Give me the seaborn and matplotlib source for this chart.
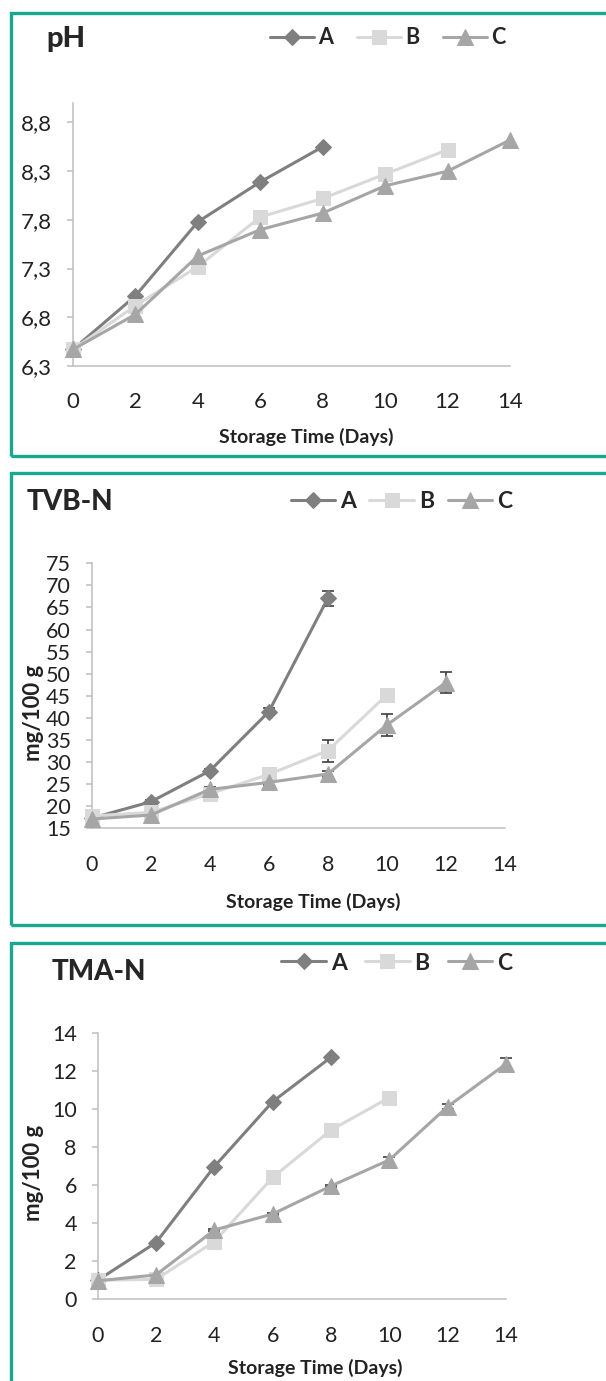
import matplotlib
matplotlib.use("Agg")
import numpy as np
import pandas as pd
import seaborn as sns
import matplotlib.pyplot as plt
from matplotlib.patches import Rectangle

# ---- data ----
days = [0, 2, 4, 6, 8, 10, 12, 14]

ph_A = [6.47, 7.02, 7.78, 8.19, 8.55]
ph_B = [6.47, 6.92, 7.32, 7.83, 8.02, 8.27, 8.52]
ph_C = [6.47, 6.83, 7.43, 7.70, 7.87, 8.15, 8.30, 8.62]

tvbn_A = [17.3, 21.0, 28.0, 41.4, 67.1]
tvbn_B = [17.8, 18.6, 22.8, 27.2, 32.6, 45.2]
tvbn_C = [17.1, 18.0, 23.8, 25.4, 27.3, 38.4, 48.0]
tvbn_A_err = [0.3, 0.5, 0.5, 0.8, 1.7]
tvbn_B_err = [0.3, 0.4, 0.5, 0.6, 2.5, 0.6]
tvbn_C_err = [0.3, 0.4, 0.5, 0.5, 0.6, 2.4, 2.4]

tman_A = [1.0, 2.98, 6.97, 10.38, 12.71]
tman_B = [1.0, 1.05, 3.03, 6.40, 8.89, 10.59]
tman_C = [0.97, 1.28, 3.64, 4.48, 5.95, 7.32, 10.12, 12.36]
tman_C_err = [0.03, 0.05, 0.05, 0.05, 0.05, 0.15, 0.15, 0.3]

series_names = ["A", "B", "C"]
colors = {"A": "#7f7f7f", "B": "#d9d9d9", "C": "#a6a6a6"}
markers = {"A": "D", "B": "s", "C": "^"}
msizes = {"A": 8, "B": 10.5, "C": 12}

teal = "#17a88f"
axis_gray = "#bfbfbf"
W, H = 606, 1381

sns.set_style("white")
plt.rcParams["font.family"] = ["Lato", "DejaVu Sans"]

fig = plt.figure(figsize=(W / 100, H / 100), dpi=100)


def px(x0, y0, x1, y1):
    # pixel box (top-left origin) -> figure rect
    return [x0 / W, 1 - y1 / H, (x1 - x0) / W, (y1 - y0) / H]


def panel(rect, values, errs, ylim, yticks, ylabels, tick_fs):
    ax = fig.add_axes(rect)
    for name, vals in zip(series_names, values):
        d = pd.DataFrame({"day": days[:len(vals)], "val": vals})
        if errs.get(name) is not None:
            # drawn under the markers, like the original
            ax.errorbar(d["day"], d["val"], yerr=errs[name], fmt="none",
                        ecolor="#3f3f3f", elinewidth=1.2, capsize=4.5,
                        capthick=1.2, zorder=2, clip_on=False)
        sns.lineplot(data=d, x="day", y="val", ax=ax, color=colors[name],
                     marker=markers[name], markersize=msizes[name],
                     markeredgecolor=colors[name], linewidth=2.2,
                     label=name, clip_on=False, zorder=3)
    ax.set_xlim(0, 14)
    ax.set_ylim(*ylim)
    ax.set_xticks([0, 2, 4, 6, 8, 10, 12, 14])
    ax.set_yticks(yticks)
    ax.set_yticklabels(ylabels)
    ax.set_xlabel("")
    ax.set_ylabel("")
    for s in ["top", "right"]:
        ax.spines[s].set_visible(False)
    for s in ["left", "bottom"]:
        ax.spines[s].set_color(axis_gray)
        ax.spines[s].set_linewidth(1.1)
    ax.tick_params(axis="x", length=0, pad=19, labelsize=tick_fs, colors="#222222")
    ax.tick_params(axis="y", left=True, length=4.5, width=1.1, color=axis_gray,
                   pad=10.5, labelsize=tick_fs, labelcolor="#222222")
    ax.patch.set_alpha(0)
    return ax


def legend(ax, x_right, y_center, fs, hl, cs):
    h, l = ax.get_legend_handles_labels()
    leg = ax.legend(h[:3], l[:3], ncol=3, loc="center right",
                    bbox_to_anchor=(x_right / W, 1 - y_center / H),
                    bbox_transform=fig.transFigure, frameon=False,
                    handlelength=hl, handletextpad=0.2, columnspacing=cs,
                    borderpad=0, borderaxespad=0,
                    prop={"family": "Lato", "weight": "bold", "size": fs})
    return leg


# ---- teal frames ----
for (y0, y1) in [(13, 456), (473, 925), (943, 1400)]:
    fig.patches.append(Rectangle((11 / W, 1 - y1 / H), (620 - 11) / W, (y1 - y0) / H,
                                 transform=fig.transFigure, fill=False,
                                 edgecolor=teal, linewidth=2.4, clip_on=False))

# ---- pH ----
ax1 = panel(px(73, 103, 510, 366), [ph_A, ph_B, ph_C], {},
            (6.3, 9.0), [6.3, 6.8, 7.3, 7.8, 8.3, 8.8],
            ["6,3", "6,8", "7,3", "7,8", "8,3", "8,8"], 16)
legend(ax1, 506, 38, 15.5, 2.05, 1.1)
fig.text(46 / W, 1 - 47 / H, "pH", fontsize=21, fontweight="black", va="baseline", ha="left")
fig.text(306 / W, 1 - 437 / H, "Storage Time (Days)", fontsize=14, fontweight="bold",
         ha="center", va="center", color="#222222")

# ---- TVB-N ----
ax2 = panel(px(91.7, 563.3, 505, 828.3), [tvbn_A, tvbn_B, tvbn_C],
            {"A": tvbn_A_err, "B": tvbn_B_err, "C": tvbn_C_err},
            (15, 75), list(range(15, 80, 5)), [str(v) for v in range(15, 80, 5)], 15.5)
legend(ax2, 512, 502, 16.5, 1.95, 0.6)
fig.text(27 / W, 1 - 510 / H, "TVB-N", fontsize=20, fontweight="black", va="baseline", ha="left")
fig.text(313 / W, 1 - 902 / H, "Storage Time (Days)", fontsize=14, fontweight="bold",
         ha="center", va="center", color="#222222")
fig.text(33 / W, 1 - 713 / H, "mg/100 g", fontsize=16, fontweight="bold", rotation=90,
         ha="center", va="center", color="#222222")

# ---- TMA-N ----
ax3 = panel(px(97.7, 1032.7, 506, 1299.3), [tman_A, tman_B, tman_C],
            {"C": tman_C_err},
            (0, 14), list(range(0, 15, 2)), [str(v) for v in range(0, 15, 2)], 15.5)
legend(ax3, 512, 963, 16.5, 1.95, 0.8)
fig.text(52 / W, 1 - 980 / H, "TMA-N", fontsize=20, fontweight="black", va="baseline", ha="left")
fig.text(315 / W, 1 - 1368 / H, "Storage Time (Days)", fontsize=14, fontweight="bold",
         ha="center", va="center", color="#222222")
fig.text(33 / W, 1 - 1173 / H, "mg/100 g", fontsize=16, fontweight="bold", rotation=90,
         ha="center", va="center", color="#222222")

fig.savefig("out.png", dpi=100)
